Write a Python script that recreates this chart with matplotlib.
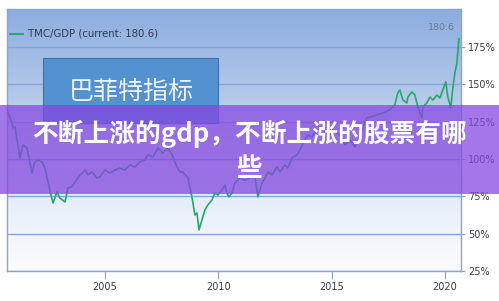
import numpy as np
import matplotlib
matplotlib.use("Agg")
import matplotlib.pyplot as plt
from matplotlib.colors import LinearSegmentedColormap
from matplotlib.patches import Rectangle
from matplotlib.lines import Line2D

plt.rcParams['font.family'] = ['Noto Sans CJK SC', 'DejaVu Sans']

# Total market cap / GDP ratio (%)
years = [2000.68, 2000.90, 2000.94, 2001.03, 2001.25, 2001.38, 2001.56, 2001.78, 2001.91,
         2002.04, 2002.22, 2002.35, 2002.57, 2002.71, 2002.88, 2003.01, 2003.24, 2003.37,
         2003.54, 2003.68, 2003.90, 2004.12, 2004.25, 2004.43, 2004.65, 2004.78, 2005.00,
         2005.22, 2005.44, 2005.66, 2005.88, 2006.10, 2006.32, 2006.54, 2006.76, 2006.90,
         2007.12, 2007.34, 2007.56, 2007.78, 2007.96, 2008.18, 2008.31, 2008.44, 2008.66,
         2008.84, 2008.97, 2009.06, 2009.15, 2009.28, 2009.41, 2009.54, 2009.72, 2009.85,
         2009.98, 2010.16, 2010.29, 2010.38, 2010.47, 2010.60, 2010.73, 2010.96, 2011.18,
         2011.40, 2011.62, 2011.75, 2011.93, 2012.06, 2012.19, 2012.37, 2012.59, 2012.72,
         2012.94, 2013.07, 2013.25, 2013.47, 2013.60, 2013.82, 2013.95, 2014.13, 2014.35,
         2014.70, 2015.06, 2015.37, 2015.59, 2015.81, 2016.03, 2016.16, 2016.38, 2016.56,
         2017.00, 2017.26, 2017.57, 2017.79, 2017.92, 2018.01, 2018.15, 2018.32, 2018.37,
         2018.54, 2018.67, 2018.81, 2018.98, 2019.03, 2019.20, 2019.34, 2019.47, 2019.65,
         2019.78, 2019.91, 2020.04, 2020.13, 2020.26, 2020.35, 2020.44, 2020.53, 2020.62]
tmc_gdp = [132.8, 124.1, 120.8, 121.4, 100.7, 109.4, 107.4, 90.6, 98.0,
           99.3, 98.0, 94.0, 79.2, 70.5, 77.9, 73.9, 71.2, 80.6,
           81.3, 84.6, 89.3, 92.6, 89.3, 91.3, 87.3, 88.0, 92.6,
           90.6, 92.6, 94.0, 92.6, 96.0, 94.6, 98.0, 99.3, 102.7,
           101.3, 107.4, 104.0, 107.4, 102.7, 94.6, 91.3, 91.3, 87.3,
           74.6, 62.5, 63.8, 52.5, 59.2, 65.8, 69.2, 72.5, 77.2,
           75.9, 79.2, 82.6, 77.2, 74.6, 77.2, 83.9, 87.3, 85.9,
           87.3, 88.0, 74.6, 83.9, 87.3, 91.3, 89.3, 94.6, 91.3,
           96.0, 94.0, 100.7, 102.7, 106.0, 112.7, 116.1, 114.7, 119.4,
           121.4, 119.4, 116.1, 109.4, 112.7, 108.0, 112.7, 120.8, 127.5,
           129.5, 130.8, 132.8, 136.2, 144.2, 146.2, 139.5, 137.5, 141.5,
           144.9, 142.9, 134.8, 127.5, 134.8, 137.5, 141.5, 139.5, 142.9,
           140.8, 146.2, 151.6, 141.5, 134.2, 147.5, 157.6, 164.3, 180.6]

y_ticks = [25, 50, 75, 100, 125, 150, 175]
x_ticks = [2005, 2010, 2015, 2020]
series_label = "TMC/GDP (current: 180.6)"
box_title = "巴菲特指标"
banner_text = "不断上涨的gdp，不断上涨的股票有哪\n些"

W, H = 499, 301
fig = plt.figure(figsize=(W / 100, H / 100), dpi=100)
fig.patch.set_facecolor("white")


def fx(px):
    return px / W


def fy(py):
    return 1 - py / H


ax = fig.add_axes([fx(7), fy(271), (461 - 7) / W, (271 - 9) / H])
ax.set_xlim(2000.68, 2020.71)
ax.set_ylim(25, 200.4)

# vertical blue-to-white background gradient
grad_cmap = LinearSegmentedColormap.from_list(
    "bg", [(0.0, "#fbfcff"), (0.25, "#e9eff9"), (0.6, "#bccfec"), (1.0, "#8cade0")])
grad = np.linspace(0, 1, 256).reshape(-1, 1)
ax.imshow(grad, extent=[0, 1, 0, 1], transform=ax.transAxes, origin="lower",
          aspect="auto", cmap=grad_cmap, zorder=0)

for v in y_ticks:
    ax.axhline(v, color="#86a5d2", lw=1.0, zorder=1)

line_color = "#27a86b"
ax.plot(years, tmc_gdp, color=line_color, lw=1.2, zorder=3, solid_joinstyle="round")

ax.annotate(f"{tmc_gdp[-1]}", xy=(years[-1], tmc_gdp[-1]), xytext=(-3, 8),
            textcoords="offset points", ha="right", va="center",
            fontsize=6.8, color="#6d7a90", family="DejaVu Sans")

ax.yaxis.tick_right()
ax.set_yticks(y_ticks)
ax.set_yticklabels([f"{v}%" for v in y_ticks], family="DejaVu Sans")
ax.set_xticks(x_ticks)
ax.set_xticklabels([str(v) for v in x_ticks], family="DejaVu Sans")
ax.tick_params(axis="y", length=3, width=0.8, pad=2, labelsize=7, colors="#8aa2c4",
               labelcolor="#3a3f48")
ax.tick_params(axis="x", length=6, width=0.8, pad=2, labelsize=7, colors="#8aa2c4",
               labelcolor="#3a3f48")
for s in ax.spines.values():
    s.set_color("#8aa6cc")
    s.set_linewidth(1.0)

# legend row
fig.add_artist(Line2D([fx(10), fx(23)], [fy(34), fy(34)], color=line_color, lw=1.4))
fig.text(fx(28), fy(34), series_label, fontsize=7.3, color="#2f3848",
         va="center", ha="left", family="DejaVu Sans")

# title box
fig.add_artist(Rectangle((fx(43), fy(123)), (218 - 43) / W, (123 - 58) / H,
                         transform=fig.transFigure, facecolor="#5391d0",
                         edgecolor="#3f6fae", lw=0.8, zorder=5))
fig.text(fx(131), fy(92), box_title, fontsize=18, color="#eef3fb",
         ha="center", va="center", zorder=6)

# translucent banner with headline
fig.add_artist(Rectangle((0, fy(194)), 1, (194 - 105) / H, transform=fig.transFigure,
                         facecolor=(0.52, 0.28, 0.88), alpha=0.74, lw=0, zorder=7))
fig.text(0.5, fy(151), banner_text, fontsize=18.5, color="white", weight="bold",
         ha="center", va="center", multialignment="center", linespacing=1.3, zorder=8)

fig.savefig("out.png", dpi=100)
